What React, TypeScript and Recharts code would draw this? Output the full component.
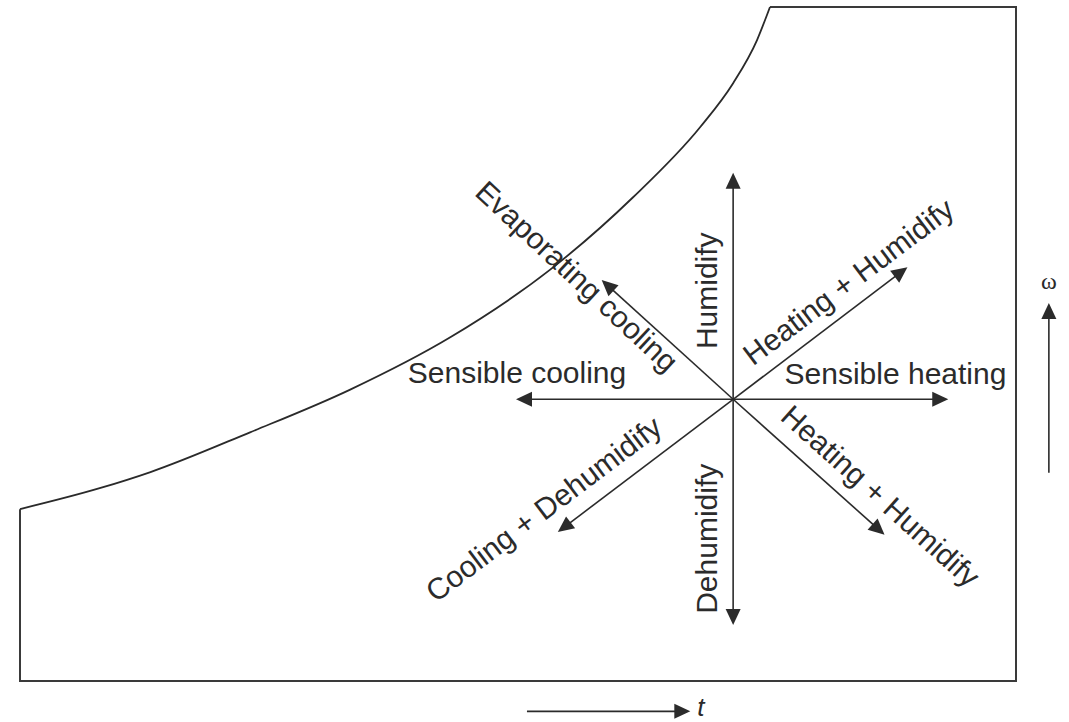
import React from "react";
import { ComposedChart, Line, XAxis, YAxis, ReferenceLine, ReferenceDot } from "recharts";

// saturation curve (t = dry bulb, w = humidity ratio, arbitrary 0..100 units)
const satT = [0, 8.0, 13.1, 23.1, 33.1, 43.2, 53.2, 61.5, 68.3, 71.6, 74.0, 75.3];
const satW = [25.5, 28.6, 31.0, 36.9, 43.2, 51.0, 61.0, 71.7, 82.2, 88.7, 95.1, 100];

// rest of the chart outline
const edgeT = [75.3, 100, 100, 0, 0];
const edgeW = [100, 100, 0, 0, 25.5];

// state point all processes start from
const stateT = 71.6;
const stateW = 41.8;

const processNames = [
  "Humidify",
  "Dehumidify",
  "Sensible heating",
  "Sensible cooling",
  "Heating + Humidify",
  "Heating + Humidify",
  "Evaporating cooling",
  "Cooling + Dehumidify",
];
const tipT = [71.6, 71.6, 93.2, 49.8, 89.1, 86.8, 58.4, 54.0];
const tipW = [75.4, 8.3, 41.8, 41.8, 61.4, 21.7, 59.5, 22.1];
const labelT = [70.0, 70.0, 87.9, 49.9, 83.8, 85.7, 55.2, 53.2];
const labelW = [57.9, 21.1, 44.1, 44.2, 58.0, 26.3, 58.9, 24.3];
const labelAngle = [-90, -90, 0, 0, -37, 42, 43, -37];

// axis direction arrows outside the frame
const omegaT = 103.3;
const omegaArrowW = [30.9, 56.1];
const omegaLabelW = 58.2;
const tempW = -4.5;
const tempArrowT = [50.9, 67.3];
const tempLabel = { t: 68.0, w: -5.2 };

const INK = "#2b2b2b";
const FONT = "'Liberation Sans', Arial, Helvetica, sans-serif";

const satData = satT.map((t, i) => ({ t, w: satW[i] }));
const edgeData = edgeT.map((t, i) => ({ t, w: edgeW[i] }));

function Arrow(props: any) {
  const { x1, y1, x2, y2 } = props;
  const dx = x2 - x1;
  const dy = y2 - y1;
  const len = Math.hypot(dx, dy) || 1;
  const ux = dx / len;
  const uy = dy / len;
  const hl = 16;
  const hw = 7.5;
  const bx = x2 - ux * hl;
  const by = y2 - uy * hl;
  const pts = `${x2},${y2} ${bx - uy * hw},${by + ux * hw} ${bx + uy * hw},${by - ux * hw}`;
  return (
    <g>
      <line x1={x1} y1={y1} x2={bx + ux * 2} y2={by + uy * 2} stroke={INK} strokeWidth={1.6} />
      <polygon points={pts} fill={INK} />
    </g>
  );
}

const textShape =
  (text: string, angle: number, opts: { size?: number; family?: string; italic?: boolean; anchor?: string } = {}) =>
  (p: any) => (
    <text
      x={p.cx}
      y={p.cy}
      transform={angle ? `rotate(${angle} ${p.cx} ${p.cy})` : undefined}
      textAnchor={opts.anchor ?? "middle"}
      fontSize={opts.size ?? 30}
      fontFamily={opts.family ?? FONT}
      fontStyle={opts.italic ? "italic" : "normal"}
      fill={INK}
    >
      {text}
    </text>
  );

export default function App() {
  return (
    <div style={{ position: "absolute", left: 0, top: 0, background: "#fff" }}>
      <ComposedChart width={1069} height={722} margin={{ top: 7, right: 53, bottom: 41, left: 20 }}>
        <XAxis type="number" dataKey="t" domain={[0, 100]} hide />
        <YAxis type="number" dataKey="w" domain={[0, 100]} hide />

        <Line
          data={edgeData}
          dataKey="w"
          type="linear"
          stroke="#3a3a3a"
          strokeWidth={2}
          dot={false}
          isAnimationActive={false}
        />
        <Line
          data={satData}
          dataKey="w"
          type="monotone"
          stroke="#2a2a2a"
          strokeWidth={1.8}
          dot={false}
          isAnimationActive={false}
        />

        {processNames.map((name, i) => (
          <ReferenceLine
            key={`a${i}`}
            segment={[
              { x: stateT, y: stateW },
              { x: tipT[i], y: tipW[i] },
            ]}
            ifOverflow="visible"
            shape={Arrow}
          />
        ))}

        {processNames.map((name, i) => (
          <ReferenceDot
            key={`l${i}`}
            x={labelT[i]}
            y={labelW[i]}
            ifOverflow="visible"
            shape={textShape(name, labelAngle[i])}
          />
        ))}

        <ReferenceLine
          segment={[
            { x: omegaT, y: omegaArrowW[0] },
            { x: omegaT, y: omegaArrowW[1] },
          ]}
          ifOverflow="visible"
          shape={Arrow}
        />
        <ReferenceDot
          x={omegaT}
          y={omegaLabelW}
          ifOverflow="visible"
          shape={textShape("ω", 0, { size: 24, family: "'Liberation Serif', 'DejaVu Serif', serif" })}
        />
        <ReferenceLine
          segment={[
            { x: tempArrowT[0], y: tempW },
            { x: tempArrowT[1], y: tempW },
          ]}
          ifOverflow="visible"
          shape={Arrow}
        />
        <ReferenceDot
          x={tempLabel.t}
          y={tempLabel.w}
          ifOverflow="visible"
          shape={textShape("t", 0, { size: 26, italic: true, anchor: "start" })}
        />
      </ComposedChart>
    </div>
  );
}
